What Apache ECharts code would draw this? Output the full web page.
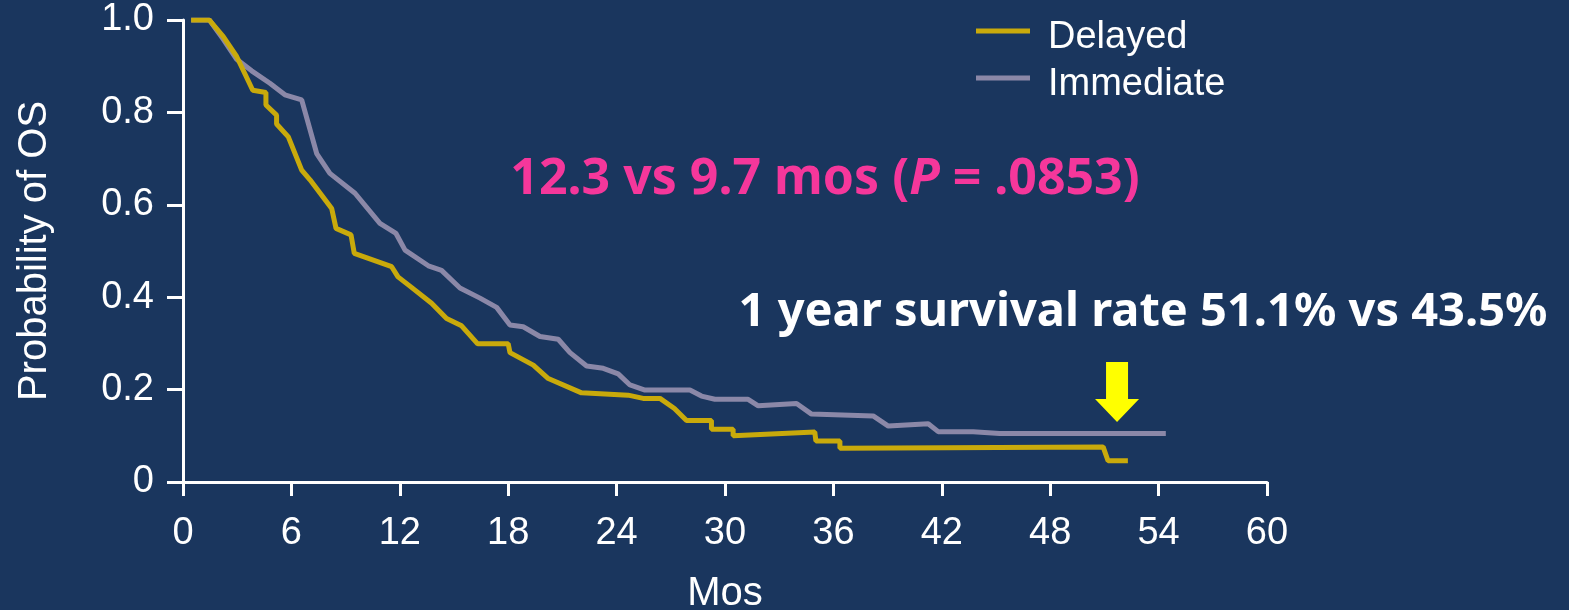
<!DOCTYPE html>
<html>
<head>
<meta charset="utf-8">
<script src="https://cdn.jsdelivr.net/npm/echarts@6/dist/echarts.min.js"></script>
<style>
  html, body { margin: 0; padding: 0; background: #1a365e; }
  #chart { width: 1569px; height: 610px; }
</style>
</head>
<body>
<div id="chart"></div>
<script>
// 数据
const xTicks = [0, 6, 12, 18, 24, 30, 36, 42, 48, 54, 60]
const yTicks = [0, 0.2, 0.4, 0.6, 0.8, 1.0]

const delayedMonths = [0.45, 1.46, 2.23, 2.97, 3.86, 4.59, 4.59, 5.18, 5.18, 5.83, 6.57, 7.03, 8.23, 8.47, 9.30, 9.48, 11.55, 11.9, 12.56, 13.76, 14.59, 15.42, 16.31, 18.0, 18.1, 19.39, 20.22, 22.06, 24.64, 25.47, 26.4, 27.2, 27.87, 29.25, 29.25, 30.45, 30.45, 34.97, 35.03, 36.36, 36.36, 50.93, 51.2, 52.3]
const delayedOS = [1.0, 1.0, 0.964, 0.921, 0.848, 0.843, 0.816, 0.794, 0.775, 0.747, 0.675, 0.654, 0.592, 0.549, 0.535, 0.495, 0.466, 0.444, 0.424, 0.387, 0.354, 0.338, 0.299, 0.299, 0.280, 0.253, 0.224, 0.193, 0.188, 0.181, 0.181, 0.159, 0.133, 0.133, 0.114, 0.114, 0.100, 0.108, 0.089, 0.089, 0.073, 0.076, 0.046, 0.046]

const immediateMonths = [0.45, 1.46, 2.23, 2.97, 3.80, 4.81, 5.64, 6.57, 7.40, 8.13, 9.52, 10.90, 11.79, 12.29, 13.58, 14.31, 15.33, 16.44, 17.36, 18.1, 18.83, 19.76, 20.77, 21.42, 22.34, 23.26, 24.09, 24.74, 25.57, 28.06, 28.70, 29.44, 31.28, 31.84, 33.96, 34.79, 38.2, 39.04, 41.25, 41.8, 43.74, 45.2, 54.4]
const immediateOS = [1.0, 1.0, 0.958, 0.915, 0.890, 0.863, 0.838, 0.827, 0.711, 0.668, 0.625, 0.560, 0.538, 0.502, 0.468, 0.458, 0.420, 0.398, 0.378, 0.340, 0.336, 0.315, 0.309, 0.280, 0.251, 0.246, 0.234, 0.210, 0.199, 0.199, 0.186, 0.179, 0.179, 0.165, 0.170, 0.147, 0.143, 0.121, 0.126, 0.109, 0.109, 0.105, 0.105]

// 箭头位置（数据坐标）
const arrowAt = [51.7, 0.195]

const zip = (xs, ys) => xs.map((x, i) => [x, ys[i]])

const mChart = echarts.init(document.getElementById('chart'))

const axisFont = 'Liberation Sans, Arial, sans-serif'
const noteFont = '"Noto Sans", "Open Sans", sans-serif'

// 图例：线段画在图标框的上沿，文字相对下移
const legendItem = (name, top) => ({
  orient: 'vertical',
  left: 976,
  top: top,
  padding: 0,
  itemWidth: 54,
  itemHeight: 19,
  icon: 'path://M0 0L54 0L54 5L0 5Z M0 19L1 19',
  itemStyle: { borderWidth: 0 },
  data: [name],
  textStyle: {
    color: '#fff',
    fontSize: 38,
    lineHeight: 38,
    fontFamily: axisFont,
    padding: [0, 0, 0, 13]
  }
})

const options = {
  backgroundColor: '#1a365e',
  animation: false,
  grid: { left: 183, right: 302, top: 20, bottom: 128, outerBoundsMode: 'none' },
  legend: [legendItem('Delayed', 19), legendItem('Immediate', 66)],
  xAxis: {
    type: 'value',
    min: 0,
    max: 60,
    interval: 6,
    name: 'Mos',
    nameLocation: 'middle',
    nameGap: 92,
    nameTextStyle: { color: '#fff', fontSize: 40, fontFamily: axisFont },
    splitLine: { show: false },
    axisLine: { show: true, lineStyle: { color: '#fff', width: 3 } },
    axisTick: { show: true, length: 14, lineStyle: { color: '#fff', width: 3 } },
    axisLabel: {
      color: '#fff', fontSize: 38, fontFamily: axisFont, margin: 33,
      formatter: v => xTicks.includes(v) ? String(v) : ''
    }
  },
  yAxis: {
    type: 'value',
    min: 0,
    max: 1,
    interval: 0.2,
    name: 'Probability of OS',
    nameLocation: 'middle',
    nameGap: 128,
    nameTextStyle: { color: '#fff', fontSize: 40, fontFamily: axisFont },
    splitLine: { show: false },
    axisLine: { show: true, lineStyle: { color: '#fff', width: 3 } },
    axisTick: { show: true, length: 16, lineStyle: { color: '#fff', width: 3 } },
    axisLabel: {
      color: '#fff', fontSize: 38, fontFamily: axisFont, margin: 29,
      formatter: v => {
        const t = yTicks.find(y => Math.abs(y - v) < 1e-9)
        if (t === undefined) return ''
        return t === 0 ? '0' : t.toFixed(1)
      }
    }
  },
  graphic: [
    {
      type: 'text',
      x: 825,
      y: 180,
      style: {
        text: '{a|12.3 vs 9.7 mos (}{i|P}{a| = .0853)}',
        align: 'center',
        verticalAlign: 'middle',
        rich: {
          a: { fill: '#f5379b', fontSize: 50, fontWeight: 'bold', fontFamily: noteFont },
          i: { fill: '#f5379b', fontSize: 50, fontWeight: 'bold', fontStyle: 'italic', fontFamily: noteFont }
        }
      }
    },
    {
      type: 'text',
      x: 1143,
      y: 313,
      style: {
        text: '1 year survival rate 51.1% vs 43.5%',
        align: 'center',
        verticalAlign: 'middle',
        fill: '#fff',
        fontSize: 47,
        fontWeight: 'bold',
        fontFamily: noteFont
      }
    }
  ],
  series: [
    {
      name: 'Delayed',
      type: 'line',
      showSymbol: false,
      color: '#c9aa0b',
      lineStyle: { width: 5, color: '#c9aa0b' },
      data: zip(delayedMonths, delayedOS),
      z: 3,
      markPoint: {
        silent: true,
        symbol: 'path://M11 0 L33 0 L33 37 L44 37 L22 60 L0 37 L11 37 Z',
        symbolSize: [44, 60],
        itemStyle: { color: '#ffff00' },
        label: { show: false },
        data: [{ coord: arrowAt }]
      }
    },
    {
      name: 'Immediate',
      type: 'line',
      showSymbol: false,
      color: '#8b88a8',
      lineStyle: { width: 5, color: '#8b88a8' },
      data: zip(immediateMonths, immediateOS),
      z: 2
    }
  ]
}

mChart.setOption(options)
</script>
</body>
</html>
